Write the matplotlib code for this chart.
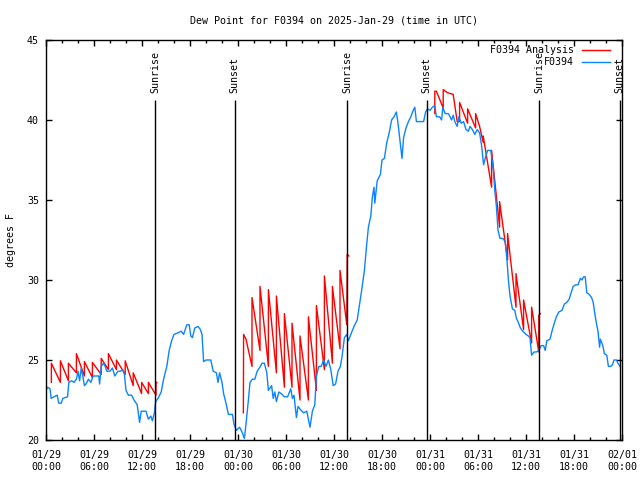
import matplotlib
matplotlib.use("Agg")
from matplotlib import pyplot as plt
import numpy as np

# hours since 2025-01-29 00:00 UTC
blue_t = [0.0, 0.2, 0.5, 0.65, 1.0, 1.4, 1.6, 1.9, 2.1, 2.7, 2.85, 3.2, 3.5, 3.8, 4.0, 4.2, 4.4, 4.6,
          4.8, 5.0, 5.3, 5.6, 5.9, 6.3, 6.6, 6.7, 6.9, 7.2, 7.4, 7.6, 8.0, 8.3, 8.6, 9.0, 9.3, 9.6,
          9.8, 10.0, 10.3, 10.7, 11.0, 11.4, 11.7, 11.9, 12.5, 12.8, 13.1, 13.3, 13.55, 13.7, 14.0,
          14.4, 14.7, 15.1, 15.4, 15.7, 16.0, 16.5, 16.9, 17.2, 17.6, 17.9, 18.1, 18.3, 18.6, 19.0,
          19.3, 19.5, 19.7, 20.0, 20.6, 20.9, 21.3, 21.5, 21.7, 22.0, 22.2, 22.5, 22.8, 23.3, 23.5,
          23.8, 24.2, 24.5, 24.8, 25.0, 25.3, 25.5, 25.8, 26.1, 26.4, 26.8, 27.0, 27.3, 27.6, 27.8,
          28.2, 28.4, 28.6, 28.8, 29.1, 29.4, 29.8, 30.2, 30.6, 30.8, 31.0, 31.3, 31.5, 31.8, 32.2,
          32.6, 33.0, 33.3, 33.6, 33.8, 34.1, 34.4, 34.7, 35.0, 35.3, 35.6, 35.9, 36.2, 36.5, 36.8,
          37.0, 37.3, 37.6, 37.8, 38.1, 38.5, 38.9, 39.2, 39.5, 39.8, 40.1, 40.3, 40.6, 40.8, 41.0,
          41.1, 41.4, 41.8, 42.0, 42.3, 42.6, 42.9, 43.2, 43.5, 43.8, 44.0, 44.3, 44.5, 44.7, 45.0,
          45.3, 45.6, 45.9, 46.1, 46.3, 46.8, 47.2, 47.45, 47.7, 48.0, 48.3, 48.6, 48.8, 49.2, 49.45,
          49.6, 49.9, 50.3, 50.7, 50.9, 51.1, 51.4, 51.6, 51.9, 52.2, 52.5, 52.8, 53.0, 53.3, 53.6,
          53.9, 54.2, 54.45, 54.7, 54.9, 55.2, 55.6, 55.9, 56.1, 56.3, 56.5, 56.75, 57.1, 57.4, 57.6,
          57.8, 58.0, 58.3, 58.6, 58.8, 59.0, 59.3, 59.6, 60.0, 60.3, 60.5, 60.7, 61.0, 61.3, 61.6,
          61.9, 62.2, 62.4, 62.6, 63.0, 63.3, 63.6, 63.8, 64.1, 64.5, 64.8, 65.1, 65.4, 65.7, 65.9,
          66.2, 66.5, 66.8, 67.0, 67.2, 67.4, 67.6, 67.9, 68.2, 68.4, 68.6, 68.8, 69.0, 69.2, 69.3,
          69.6, 69.8, 70.1, 70.3, 70.6, 70.8, 71.0, 71.3, 71.5, 71.75]
blue_v = [23.1, 23.3, 23.2, 22.6, 22.7, 22.8, 22.3, 22.3, 22.6, 22.7, 23.6, 23.7, 23.6, 23.8, 24.3, 23.7, 24.5, 24.0,
          23.4, 23.5, 23.8, 23.6, 24.0, 24.0, 24.0, 23.5, 24.6, 24.8, 24.6, 24.3, 24.3, 24.5, 24.0, 24.3, 24.3, 24.4,
          24.1, 23.1, 22.8, 22.8, 22.5, 22.2, 21.1, 21.8, 21.8, 21.3, 21.5, 21.2, 21.7, 22.4, 22.6,
          23.0, 23.8, 24.6, 25.6, 26.2, 26.6, 26.7, 26.8, 26.6, 27.2, 27.2, 26.5, 26.4, 27.0, 27.1,
          26.9, 26.6, 24.9, 25.0, 25.0, 24.3, 24.2, 23.6, 24.2, 23.6, 22.9, 22.3, 21.6, 21.6, 21.0,
          20.6, 20.8, 20.5, 20.1, 21.0, 22.5, 23.6, 23.8, 23.8, 24.3, 24.6, 24.8, 24.8, 24.2, 23.1,
          23.4, 22.6, 23.0, 22.4, 23.0, 22.9, 22.7, 22.7, 23.2, 22.6, 22.8, 21.4, 22.1, 21.9, 21.7,
          21.8, 20.8, 21.8, 22.2, 24.0, 24.6, 24.6, 25.0, 24.6, 25.0, 24.4, 23.4, 23.5, 24.3, 24.6,
          25.2, 26.4, 26.6, 26.2, 26.6, 27.1, 27.5, 28.5, 29.5, 30.6, 32.3, 33.3, 34.0, 35.2, 35.8,
          34.8, 36.2, 36.6, 37.5, 37.6, 38.6, 39.2, 40.0, 40.2, 40.5, 39.8, 38.5, 37.6, 38.9, 39.5,
          39.9, 40.2, 40.6, 40.8, 39.9, 39.9, 39.9, 40.5, 40.7, 40.6, 40.8, 40.9, 40.2, 40.2, 40.0,
          40.8, 40.4, 40.4, 40.0, 40.3, 39.9, 39.6, 40.2, 39.8, 39.9, 39.4, 39.3, 39.6, 39.4, 39.1,
          39.4, 39.2, 38.4, 37.2, 37.6, 38.1, 38.1, 37.0, 35.6, 34.6, 33.1, 32.6, 32.6, 32.4, 31.4,
          30.0, 29.0, 28.2, 28.1, 27.6, 27.4, 27.0, 26.8, 26.6, 26.5, 26.4, 25.3, 25.5, 25.5, 25.6,
          25.9, 25.9, 25.6, 26.2, 26.3, 26.9, 27.4, 27.7, 28.0, 28.1, 28.5, 28.6, 28.8, 29.3, 29.6,
          29.7, 29.7, 30.1, 30.0, 30.2, 30.2, 29.2, 29.1, 28.9, 28.6, 27.9, 27.3, 26.8, 25.8, 26.3,
          25.9, 25.4, 25.3, 24.6, 24.6, 24.7, 25.0, 25.0, 24.8, 24.6]

# analysis runs, three separate pieces
red1_t = [0.67, 0.67, 1.8, 1.8, 2.8, 2.8, 3.8, 3.8, 4.8, 4.8, 5.8, 5.8, 6.9, 6.9, 7.8, 7.8, 8.8, 8.8,
          9.9, 9.9, 10.9, 10.9, 11.95, 11.95, 12.8, 12.8, 13.75, 13.75, 13.85]
red1_v = [23.6, 24.8, 23.6, 24.95, 23.7, 24.8, 24.2, 25.4, 24.0, 24.9, 23.9, 24.85, 24.1, 25.1, 24.4, 25.4, 24.4, 25.0,
          24.1, 24.95, 23.4, 24.2, 22.9, 23.6, 22.9, 23.6, 22.8, 23.6, 23.6]
red2_t = [24.67, 24.7, 25.0, 25.75, 25.75, 26.75, 26.75, 27.8, 27.8, 28.8, 28.8, 29.8, 29.8, 30.75, 30.75,
          31.75, 31.75, 32.8, 32.8, 33.8, 33.8, 34.8, 34.8, 35.8, 35.8, 36.75, 36.75, 37.6, 37.65, 37.85]
red2_v = [21.7, 26.6, 26.3, 24.6, 28.9, 25.6, 29.6, 24.6, 29.4, 24.2, 29.0, 23.3, 27.9, 23.3, 27.3,
          22.5, 26.5, 22.5, 27.7, 23.1, 28.4, 24.4, 30.25, 24.8, 29.6, 25.7, 30.6, 27.2, 31.6, 31.5]
red3_t = [48.6, 48.6, 48.8, 49.65, 49.65, 50.2, 50.9, 51.4, 51.7, 51.7, 52.7, 52.7, 53.7, 53.7, 54.2,
          54.65, 54.65, 55.7, 55.7, 56.7, 56.7, 57.7, 57.7, 58.75, 58.75, 59.7, 59.7, 60.7, 60.7,
          61.6, 61.6, 61.8]
red3_v = [40.4, 41.8, 41.8, 40.75, 41.9, 41.7, 41.6, 39.9, 39.9, 41.1, 39.8, 40.7, 39.5, 40.4, 39.6,
          38.6, 39.0, 35.8, 38.1, 33.3, 34.9, 31.25, 32.9, 28.3, 30.4, 26.9, 28.75, 26.06, 28.3,
          25.5, 27.8, 27.9]

sun_t = [13.65, 23.6, 37.65, 47.6, 61.65, 71.7]
sun_lbl = ["Sunrise", "Sunset", "Sunrise", "Sunset", "Sunrise", "Sunset"]

xtick_h = list(range(0, 73, 6))
xtick_lbl = ["01/29\n00:00", "01/29\n06:00", "01/29\n12:00", "01/29\n18:00",
             "01/30\n00:00", "01/30\n06:00", "01/30\n12:00", "01/30\n18:00",
             "01/31\n00:00", "01/31\n06:00", "01/31\n12:00", "01/31\n18:00",
             "02/01\n00:00"]

plt.rcParams['font.family'] = ['DejaVu Sans Mono']
fs = 7.2

fig = plt.figure(figsize=(6.4, 4.8), dpi=100)
ax = fig.add_axes([46 / 640, 40 / 480, 576 / 640, 400 / 480])

red = '#ff0000'
blue = '#0a84ff'
for t, v in [(red1_t, red1_v), (red2_t, red2_v), (red3_t, red3_v)]:
    ax.plot(t, v, color=red, lw=1)
ax.plot(blue_t, blue_v, color=blue, lw=1)

ax.vlines(sun_t, 20, 41.25, color='black', lw=1)
for t, s in zip(sun_t, sun_lbl):
    ax.text(t, 41.7, s, rotation=90, ha='center', va='bottom', fontsize=fs)

ax.set_xlim(0, 72)
ax.set_ylim(20, 45)
ax.set_xticks(xtick_h)
ax.set_xticklabels(xtick_lbl, linespacing=1.25)
ax.set_xticks(np.arange(0, 73, 2), minor=True)
ax.set_yticks([20, 25, 30, 35, 40, 45])
ax.tick_params(which='both', direction='in', top=True, right=True, labelsize=fs, width=1)
ax.tick_params(which='major', length=4.5, pad=5)
ax.tick_params(axis='x', which='major', pad=7)
ax.tick_params(which='minor', length=2.5)
for sp in ax.spines.values():
    sp.set_linewidth(1)

ax.set_ylabel("degrees F", fontsize=fs, labelpad=8)
ax.set_title("Dew Point for F0394 on 2025-Jan-29 (time in UTC)", fontsize=fs, pad=12)

# legend, gnuplot style: text right-aligned, sample line after it
ax.text(0.9167, 0.975, "F0394 Analysis", transform=ax.transAxes, ha='right', va='center', fontsize=fs)
ax.plot([0.9306, 0.9792], [0.975, 0.975], color=red, lw=1, transform=ax.transAxes, clip_on=False)
ax.text(0.9167, 0.945, "F0394", transform=ax.transAxes, ha='right', va='center', fontsize=fs)
ax.plot([0.9306, 0.9792], [0.945, 0.945], color=blue, lw=1, transform=ax.transAxes, clip_on=False)

fig.savefig("out.png", dpi=100)
